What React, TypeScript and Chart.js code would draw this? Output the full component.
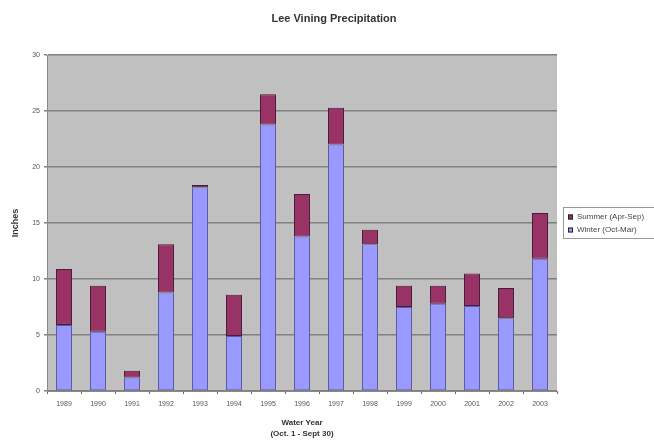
import React, { useEffect, useRef } from 'react';
import { Chart, registerables } from 'chart.js';

Chart.register(...registerables);

const years = ['1989', '1990', '1991', '1992', '1993', '1994', '1995', '1996', '1997', '1998', '1999', '2000', '2001', '2002', '2003'];
const winter = [5.9, 5.3, 1.2, 8.8, 18.2, 4.9, 23.8, 13.8, 22.0, 13.1, 7.5, 7.8, 7.6, 6.5, 11.8];
const summer = [5.0, 4.1, 0.6, 4.3, 0.2, 3.7, 2.7, 3.8, 3.3, 1.3, 1.9, 1.6, 2.9, 2.7, 4.1];
const titleText = 'Lee Vining Precipitation';
const yTitle = 'Inches';
const xTitleLines = ['Water Year', '(Oct. 1 - Sept 30)'];
const legendLabels = ['Summer (Apr-Sep)', 'Winter (Oct-Mar)'];

const FONT = '"Liberation Sans", Arial, sans-serif';
const BLUE = '#9999ff';
const RED = '#993366';

const decor = {
  id: 'decor',
  beforeDraw(chart: any) {
    const { ctx, chartArea: a } = chart;
    ctx.save();
    ctx.fillStyle = '#ffffff';
    ctx.fillRect(0, 0, chart.width, chart.height);
    ctx.fillStyle = '#c0c0c0';
    ctx.fillRect(a.left, a.top, a.right - a.left, a.bottom - a.top);
    ctx.restore();
  },
  afterDraw(chart: any) {
    const { ctx, chartArea: a } = chart;
    ctx.save();
    ctx.fillStyle = '#333';
    ctx.textAlign = 'center';
    ctx.textBaseline = 'middle';
    ctx.font = 'bold 11px ' + FONT;
    ctx.fillText(titleText, 334, 19);
    const cx = (a.left + a.right) / 2;
    ctx.font = 'bold 8px ' + FONT;
    ctx.fillText(xTitleLines[0], cx, 423);
    ctx.fillText(xTitleLines[1], cx, 434);
    ctx.save();
    ctx.translate(16, 223);
    ctx.rotate(-Math.PI / 2);
    ctx.font = 'bold 9px ' + FONT;
    ctx.fillText(yTitle, 0, 0);
    ctx.restore();
    // legend
    ctx.strokeStyle = '#999';
    ctx.lineWidth = 1;
    ctx.strokeRect(563.5, 207.5, 100, 31);
    const colors = [RED, BLUE];
    ctx.font = '8px ' + FONT;
    ctx.textAlign = 'left';
    legendLabels.forEach((l, i) => {
      const y = 217 + i * 13;
      ctx.fillStyle = colors[i];
      ctx.fillRect(568, y - 2.5, 5, 5);
      ctx.strokeStyle = '#222';
      ctx.strokeRect(568.5, y - 2, 4, 4);
      ctx.fillStyle = '#444';
      ctx.fillText(l, 577, y);
    });
    ctx.restore();
  },
};

export default function App() {
  const ref = useRef<HTMLCanvasElement>(null);
  useEffect(() => {
    const chart = new Chart(ref.current!, {
      type: 'bar',
      data: {
        labels: years,
        datasets: [
          { label: legendLabels[1], data: winter, backgroundColor: BLUE, borderColor: '#5a5aa0', borderWidth: 1, borderSkipped: false },
          { label: legendLabels[0], data: summer, backgroundColor: RED, borderColor: '#4a1a3a', borderWidth: 1, borderSkipped: false },
        ],
      },
      options: {
        animation: false,
        responsive: false,
        layout: { padding: { top: 55, right: 97, left: 0, bottom: 0 } },
        plugins: { legend: { display: false }, tooltip: { enabled: false }, title: { display: false } },
        datasets: { bar: { categoryPercentage: 1, barPercentage: 0.47 } },
        scales: {
          x: {
            stacked: true,
            afterFit: (s: any) => { s.height = 50; },
            grid: { display: true, drawOnChartArea: false, tickLength: 3, color: '#666', offset: true },
            border: { color: '#888' },
            ticks: { font: { size: 7, family: FONT }, color: '#555', padding: 6, maxRotation: 0, autoSkip: false },
          },
          y: {
            stacked: true,
            min: 0,
            max: 30,
            afterFit: (s: any) => { s.width = 47; },
            ticks: { stepSize: 5, font: { size: 7, family: FONT }, color: '#555', padding: 4 },
            grid: { color: '#808080', lineWidth: 1.5, tickLength: 3 },
            border: { color: '#888' },
          },
        },
      },
      plugins: [decor],
    });
    return () => chart.destroy();
  }, []);
  return (
    <div style={{ position: 'fixed', left: 0, top: 0, width: 654, height: 441, background: '#fff' }}>
      <canvas ref={ref} width={654} height={441} style={{ width: 654, height: 441, display: 'block' }} />
    </div>
  );
}
